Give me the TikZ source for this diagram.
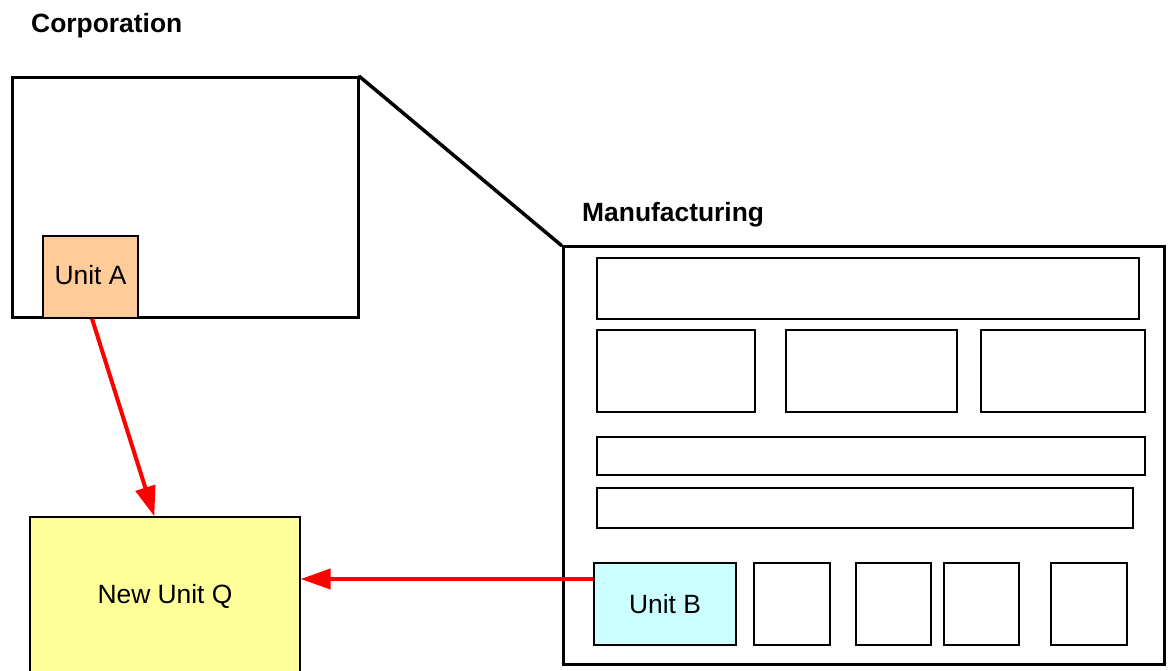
\documentclass[tikz,border=0pt]{standalone}
\usepackage{fontspec}
\setmainfont{Liberation Sans}
\usetikzlibrary{arrows.meta,calc}
\definecolor{unitA}{HTML}{FFCC99}
\definecolor{unitB}{HTML}{CCFFFF}
\definecolor{unitQ}{HTML}{FFFF99}
\definecolor{flow}{HTML}{FF0000}
\tikzset{
  frame/.style={draw=black, line width=3pt, inner sep=0pt},
  cell/.style={draw=black, line width=1.3pt, inner sep=0pt},
  unit/.style={cell, font=\fontsize{26.4}{30}\selectfont},
  title/.style={font=\bfseries\fontsize{26.4}{30}\selectfont, anchor=base west, inner sep=0pt},
  flowarrow/.style={draw=flow, line width=4pt, -{Triangle[length=30pt,width=20pt]}},
}
\begin{document}
\begin{tikzpicture}[x=1pt,y=-1pt]
\useasboundingbox (0,0) rectangle (1171,671);

% headings
\node[title] (corpT) at (31,33) {Corporation};
\node[title] (mfgT) at (582,222) {Manufacturing};

% corporation frame
\node[frame, minimum width=346pt, minimum height=240pt] (corp) at (185,198) {};
\node[unit, fill=unitA, minimum width=95pt, minimum height=82pt] (ua) at (90.5,277) {};
\node[font=\fontsize{26.4}{30}\selectfont, inner sep=0pt] (uaT) at (90.5,275) {Unit A};

% manufacturing frame
\node[frame, minimum width=601pt, minimum height=417pt] (mfg) at (863.5,455.5) {};
\draw[line width=3.5pt, line cap=round] (corp.north east) -- (mfg.north west);

% inner structure
\node[cell, minimum width=542pt, minimum height=61pt] (top) at (868,288.5) {};
\node[cell, minimum width=158pt, minimum height=82pt] (r1) at (676,371) {};
\node[cell, minimum width=171pt, minimum height=82pt] (r2) at (871.5,371) {};
\node[cell, minimum width=164pt, minimum height=82pt] (r3) at (1063,371) {};
\node[cell, minimum width=548pt, minimum height=38pt] (bar1) at (871,456) {};
\node[cell, minimum width=536pt, minimum height=40pt] (bar2) at (865,508) {};
\node[unit, fill=unitB, minimum width=142pt, minimum height=82pt] (ub) at (665,604) {Unit B};
\node[cell, minimum width=76pt, minimum height=82pt] (s1) at (792,604) {};
\node[cell, minimum width=75pt, minimum height=82pt] (s2) at (893.5,604) {};
\node[cell, minimum width=75pt, minimum height=82pt] (s3) at (981.5,604) {};
\node[cell, minimum width=76pt, minimum height=82pt] (s4) at (1089,604) {};

% new unit
\node[unit, fill=unitQ, minimum width=270pt, minimum height=158pt] (q) at (165,596) {New Unit Q};

% flows
\coordinate (aStart) at ($(ua.south)+(1.5,0)$);
\coordinate (qTop) at ($(q.north west)+(125,0)$);
\draw[flowarrow] (aStart) -- (qTop);
\coordinate (bStart) at ($(ub.west)+(0,-25)$);
\draw[flowarrow] (bStart) -- (bStart -| q.east);
\end{tikzpicture}
\end{document}
